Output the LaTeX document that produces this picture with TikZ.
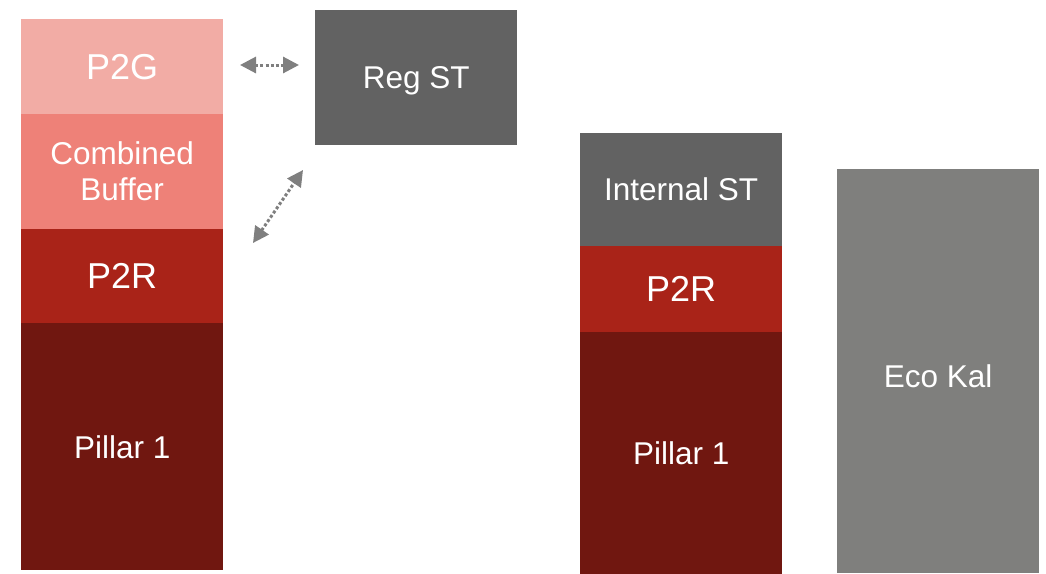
\documentclass[tikz,border=0pt]{standalone}
\usepackage{fontspec}
\setmainfont{Liberation Sans}
\usetikzlibrary{positioning,arrows.meta}
\definecolor{p2gcol}{HTML}{F2ACA5}
\definecolor{buffercol}{HTML}{EE8178}
\definecolor{p2rcol}{HTML}{A92318}
\definecolor{pillarcol}{HTML}{701710}
\definecolor{stcol}{HTML}{626262}
\definecolor{ecocol}{HTML}{7F7F7D}
\definecolor{linkcol}{HTML}{7F7F7F}

\begin{document}
\begin{tikzpicture}[x=1pt,y=-1pt,every node/.style={shape=rectangle,align=center,text=white,inner sep=0pt,text depth=0pt,minimum width=202pt,font=\fontsize{31.5}{36}\selectfont},
  bigtxt/.style={font=\fontsize{36}{40}\selectfont},
  link/.style={draw=linkcol,line width=3pt,dash pattern=on 3pt off 2.2pt,{Triangle[length=16pt,width=16pt]}-{Triangle[length=16pt,width=16pt]}}]
  \useasboundingbox (0,0) rectangle (1046,573);
  % left stack
  \node[fill=p2gcol,bigtxt,minimum height=94.6pt,anchor=north west] (p2g) at (21,19) {P2G};
  \node[fill=buffercol,minimum height=115.6pt,below=-0.6pt of p2g] (buffer) {Combined\\Buffer};
  \node[fill=p2rcol,bigtxt,minimum height=94.6pt,below=-0.6pt of buffer] (p2r) {P2R};
  \node[fill=pillarcol,minimum height=246.6pt,below=-0.6pt of p2r] (pillar) {Pillar 1};
  % regulatory box
  \node[fill=stcol,minimum height=135pt,anchor=north west] (regst) at (315,10) {Reg ST};
  % middle stack
  \node[fill=stcol,minimum height=112.6pt,anchor=north west] (intst) at (580,133) {Internal ST};
  \node[fill=p2rcol,bigtxt,minimum height=86.6pt,below=-0.6pt of intst] (p2rb) {P2R};
  \node[fill=pillarcol,minimum height=242.6pt,below=-0.6pt of p2rb] (pillarb) {Pillar 1};
  % right
  \node[fill=ecocol,minimum height=404pt,anchor=north west,
        label={[yshift=-5pt]center:Eco Kal}] (ecokal) at (837,169) {};
  % links
  \coordinate (hl) at (240,65);
  \coordinate (hr) at (299,65);
  \coordinate (dl) at (253,243);
  \coordinate (du) at (303,170);
  \draw[link] (hl) -- (hr);
  \draw[link] (dl) -- (du);
\end{tikzpicture}
\end{document}
